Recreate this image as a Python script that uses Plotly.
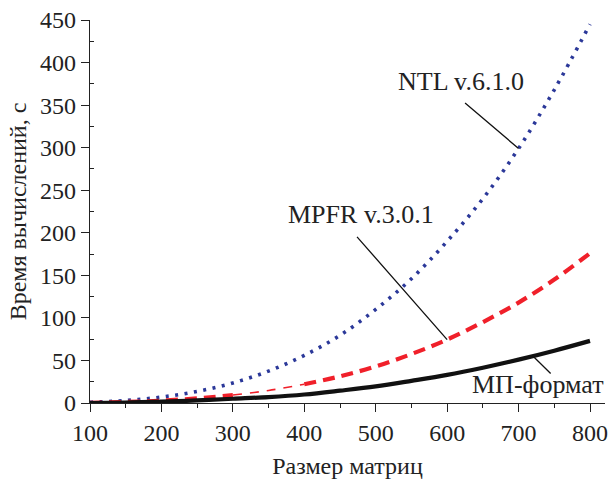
import numpy as np
import plotly.graph_objects as go

# ---- data ----
sizes = [100, 150, 200, 250, 300, 350, 400, 450, 500, 550, 600, 650, 700, 750, 800]
ntl = [0.9, 2.9, 7.0, 13.6, 23.5, 37.5, 56.0, 79.5, 110.0, 146.0, 190.0, 240.0, 299.0, 368.0, 445.0]
mpfr = [0.3, 1.2, 2.8, 5.4, 9.3, 14.7, 22.0, 31.3, 43.0, 57.5, 74.5, 95.0, 118.0, 145.0, 176.0]
mp = [0.0, 0.5, 1.5, 3.0, 5.0, 7.0, 10.0, 14.5, 19.5, 26.0, 33.0, 41.5, 51.0, 61.5, 73.0]

x_title = "Размер матриц"
y_title = "Время вычислений, с"
labels = ["NTL v.6.1.0", "MPFR v.3.0.1", "МП-формат"]
# label positions (data coords) and leader-line start / target x on the curve
label_pos = [(620, 378), (479, 222), (727, 22)]
leader_start = [(623, 354), (472, 197), (747, 33)]
leader_x = [700, 600, 720]

FONT = "Liberation Serif, Times New Roman, serif"
BLUE = "#2B3899"
RED = "#F0202A"
BLACK = "#111111"

fig = go.Figure()

# NTL: blue dotted
fig.add_trace(go.Scatter(x=sizes, y=ntl, mode="lines",
                         line=dict(color=BLUE, width=3.6, dash="3px,6.5px", shape="spline"),
                         showlegend=False))

# MPFR: red dashed, thin in the middle section
i300 = sizes.index(300)
i400 = sizes.index(400)
fig.add_trace(go.Scatter(x=sizes[:i300 + 1], y=mpfr[:i300 + 1], mode="lines",
                         line=dict(color=RED, width=4.2, dash="12px,7px", shape="spline"),
                         showlegend=False))
fig.add_trace(go.Scatter(x=sizes[i300:i400 + 1], y=mpfr[i300:i400 + 1], mode="lines",
                         line=dict(color=RED, width=1.6, dash="9px,8px", shape="spline"),
                         showlegend=False))
fig.add_trace(go.Scatter(x=sizes[i400:], y=mpfr[i400:], mode="lines",
                         line=dict(color=RED, width=4.2, dash="12px,7px", shape="spline"),
                         showlegend=False))

# MP-format: black solid
fig.add_trace(go.Scatter(x=sizes, y=mp, mode="lines",
                         line=dict(color=BLACK, width=4.2, shape="spline"),
                         showlegend=False))

series = [ntl, mpfr, mp]
for lab, (lx, ly), (sx, sy), tx, ys in zip(labels, label_pos, leader_start, leader_x, series):
    fig.add_annotation(x=lx, y=ly, text=lab, showarrow=False,
                       font=dict(family=FONT, size=26, color="#222"))
    fig.add_annotation(x=tx, y=float(np.interp(tx, sizes, ys)), ax=sx, ay=sy,
                       axref="x", ayref="y", text="", showarrow=True,
                       arrowhead=0, arrowwidth=1.3, arrowcolor="#111", standoff=0)

axis_common = dict(showline=True, linecolor="#222", linewidth=1.3, showgrid=False,
                   zeroline=False, ticks="outside", ticklen=8, tickwidth=1.3,
                   tickcolor="#222", tickfont=dict(family=FONT, size=24, color="#222"))

fig.update_xaxes(range=[100, 821], tickvals=[100, 200, 300, 400, 500, 600, 700, 800],
                 minor=dict(tickvals=[150, 250, 350, 450, 550, 650, 750], ticks="outside",
                            ticklen=4, tickwidth=1.2, tickcolor="#222"),
                 title=dict(text=x_title, font=dict(family=FONT, size=24, color="#222"),
                            standoff=12),
                 **axis_common)
fig.update_yaxes(range=[0, 450], tickvals=list(range(0, 451, 50)),
                 minor=dict(tickvals=list(range(25, 450, 50)), ticks="inside",
                            ticklen=4, tickwidth=1.2, tickcolor="#222"),
                 title=dict(text=y_title, font=dict(family=FONT, size=24, color="#222"),
                            standoff=6),
                 **axis_common)

fig.update_layout(width=611, height=481, plot_bgcolor="white", paper_bgcolor="white",
                  margin=dict(l=90, r=6, t=20, b=78, autoexpand=False))

fig.write_html("out.html", config={"displayModeBar": False},
               post_script="document.body.style.margin='0';document.body.style.overflow='hidden';")
